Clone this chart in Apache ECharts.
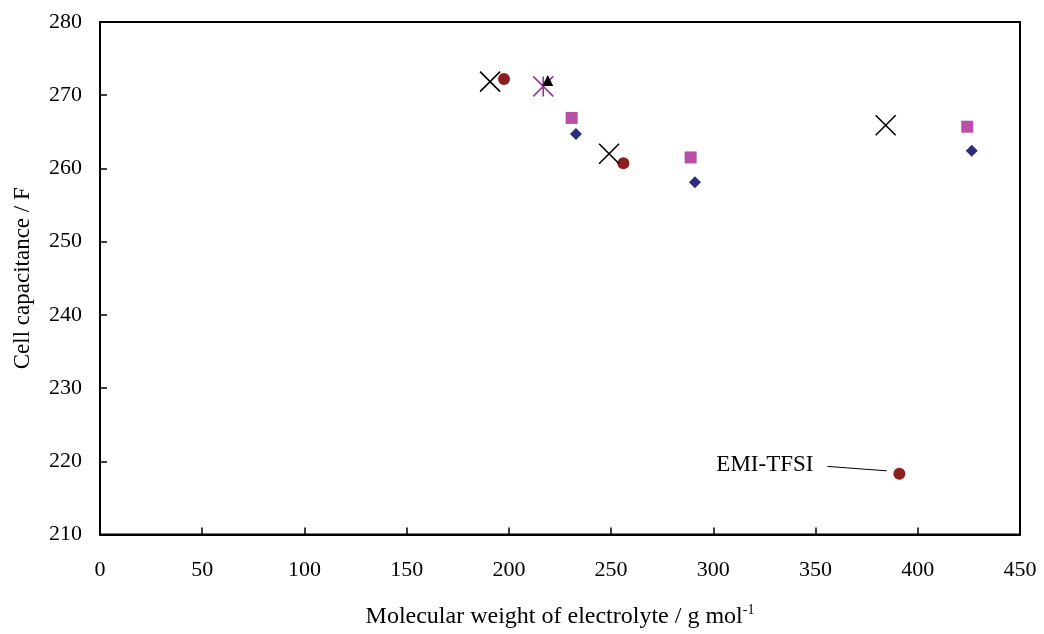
<!DOCTYPE html>
<html>
<head>
<meta charset="utf-8">
<script src="https://cdn.jsdelivr.net/npm/echarts@6/dist/echarts.min.js"></script>
<style>html,body{margin:0;padding:0;background:#fff}#c{width:1044px;height:634px}</style>
</head>
<body>
<div id="c"></div>
<script>
// Data (molecular weight [g/mol], cell capacitance [F])
var diamondPts = [[232.8, 264.7], [291.0, 258.1], [426.4, 262.4]];
var squarePts = [[230.7, 266.9], [288.9, 261.5], [424.2, 265.7]];
var circlePts = [[197.6, 272.2], [256.0, 260.7], [391.0, 218.3]];
var crossPts = [[190.8, 271.85], [249.0, 262.0], [384.3, 265.9]];
var starPts = [[216.8, 271.2]];
var trianglePts = [[219.0, 272.0]];
var annotationText = 'EMI-TFSI';
var annotationLine = [[355.8, 219.3], [384.8, 218.7]];
var xTicks = {min: 0, max: 450, interval: 50};
var yTicks = {min: 210, max: 280, interval: 10};

var FONT = '"Liberation Serif", "Times New Roman", serif';
var chart = echarts.init(document.getElementById('c'));
var axisCommon = {
  axisLine: {show: true, onZero: false, lineStyle: {color: '#000', width: 2}},
  axisTick: {show: true, inside: true, length: 7, lineStyle: {color: '#000', width: 1.5}},
  splitLine: {show: false},
  nameTextStyle: {fontFamily: FONT, fontSize: 23, color: '#000'}
};
chart.setOption({
  animation: false,
  backgroundColor: '#fff',
  grid: {left: 100, right: 24, top: 22, bottom: 99, show: true, borderColor: '#000', borderWidth: 2, backgroundColor: 'transparent'},
  xAxis: Object.assign({}, axisCommon, {
    type: 'value', min: xTicks.min, max: xTicks.max, interval: xTicks.interval,
    axisLabel: {fontFamily: FONT, fontSize: 22, color: '#000', margin: 25},
    name: '{n|Molecular weight of electrolyte / g mol}{s|-1}',
    nameLocation: 'middle', nameGap: 69,
    nameTextStyle: {fontFamily: FONT, fontSize: 24, color: '#000',
      rich: {n: {fontFamily: FONT, fontSize: 24, color: '#000'},
             s: {fontFamily: FONT, fontSize: 14, color: '#000', padding: [0, 0, 13, 0]}}}
  }),
  yAxis: Object.assign({}, axisCommon, {
    type: 'value', min: yTicks.min, max: yTicks.max, interval: yTicks.interval,
    axisLabel: {fontFamily: FONT, fontSize: 22, color: '#000', margin: 18},
    name: 'Cell capacitance / F', nameLocation: 'middle', nameGap: 66
  }),
  series: [
    {type: 'scatter', data: diamondPts, symbol: 'diamond', symbolSize: 12,
     itemStyle: {color: '#2E2C7C', opacity: 1}},
    {type: 'scatter', data: squarePts, symbol: 'rect', symbolSize: 12,
     itemStyle: {color: '#B94FA6', opacity: 1}},
    {type: 'scatter', data: circlePts, symbol: 'circle', symbolSize: 12,
     itemStyle: {color: '#8B1E1E', opacity: 1},
     markLine: {
       silent: true, symbol: ['none', 'none'], animation: false,
       lineStyle: {color: '#000', width: 1, type: 'solid'},
       label: {show: true, position: 'start', distance: 14, formatter: annotationText,
               fontFamily: FONT, fontSize: 23, color: '#000'},
       data: [[{coord: annotationLine[0]}, {coord: annotationLine[1]}]]
     }},
    {type: 'scatter', data: crossPts, symbol: 'path://M0,0L10,10M10,0L0,10', symbolSize: 20,
     itemStyle: {color: 'none', borderColor: '#000', borderWidth: 1.6, opacity: 1}},
    {type: 'scatter', data: starPts, symbol: 'path://M5,0L5,10M0,0L10,10M10,0L0,10', symbolSize: 20,
     itemStyle: {color: 'none', borderColor: '#8E3A8E', borderWidth: 1.6, opacity: 1}},
    {type: 'scatter', data: trianglePts, symbol: 'triangle', symbolSize: 11,
     itemStyle: {color: '#000', opacity: 1}}
  ]
});
</script>
</body>
</html>
